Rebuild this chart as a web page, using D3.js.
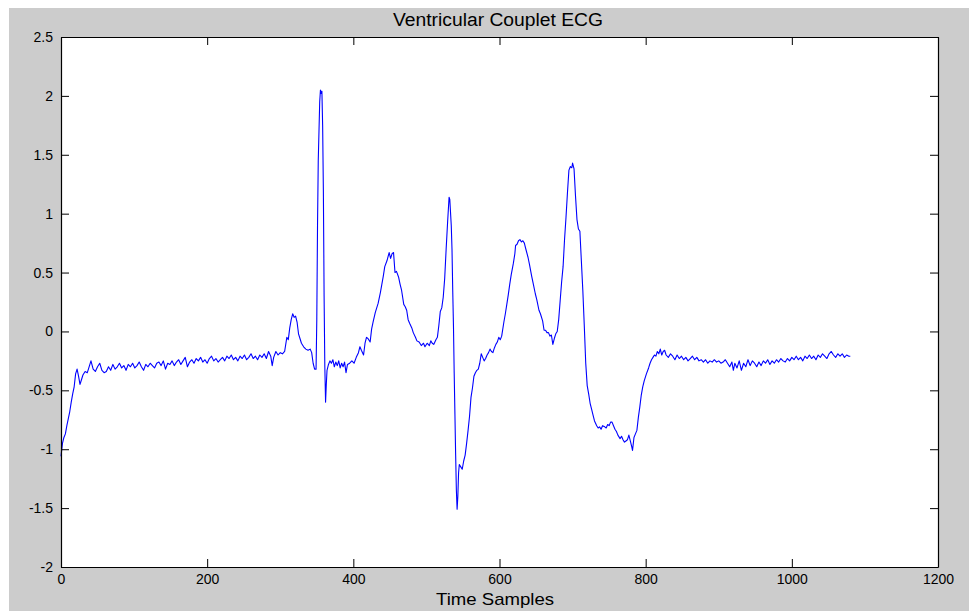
<!DOCTYPE html>
<html>
<head>
<meta charset="utf-8">
<script src="https://cdn.jsdelivr.net/npm/d3@7"></script>
<style>
html,body{margin:0;padding:0;background:#fff;}
svg{display:block;}
</style>
</head>
<body>
<svg id="chart" width="969" height="611"></svg>
<script>
const titleText = "Ventricular Couplet ECG";
const xLabelText = "Time Samples";
const xTicks = [0, 200, 400, 600, 800, 1000, 1200];
const yTicks = [-2, -1.5, -1, -0.5, 0, 0.5, 1, 1.5, 2, 2.5];

const sampleIdx = [
0,2,4,6,8,10,12,14,16,18,20,22,24,26,28,30,33,36,39,41,44,47,50,53,56,59,62,65,68,71,74,77,80,83,86,89,92,95,98,101,104,107,110,113,116,119,122,125,128,131,134,137,140,143,146,149,152,155,158,161,164,167,170,173,176,179,182,185,188,191,194,197,200,203,206,209,212,215,218,221,224,227,230,233,236,239,242,245,248,251,254,257,260,263,266,269,272,275,278,281,284,287,289,291,294,297,300,303,306,309,311,313,315,317,319,321,323,325,327,329,332,335,338,341,343,345,347,349,350,351,352,354,355,356,357,358,359,360,361,362,363,364,366,368,370,372,374,376,378,380,382,384,386,388,390,392,395,398,401,404,407,409,411,414,416,418,420,423,425,427,430,434,437,439,441,443,446,449,451,453,455,457,459,462,464,466,469,471,473,475,477,480,482,485,487,490,493,496,498,501,504,506,508,510,513,515,517,519,521,523,525,527,529,531,532,534,535,536,537,538,539,540,541,542,543,544,545,547,549,551,553,555,557,559,561,563,565,567,569,571,573,575,577,579,581,583,585,587,589,591,593,595,597,599,601,603,606,608,610,612,614,616,619,621,622,624,626,628,630,632,634,636,639,641,644,646,649,651,654,656,659,661,663,665,667,669,671,673,675,677,679,681,683,685,687,689,691,693,695,697,699,700,702,704,706,708,710,712,714,716,718,720,722,724,726,728,730,733,735,737,739,741,744,746,748,750,752,754,756,758,760,762,765,767,769,771,773,775,777,779,781,782,784,786,788,790,792,794,796,798,801,804,806,808,810,812,814,816,818,820,822,824,826,828,831,834,837,840,843,846,849,852,855,858,861,864,867,870,873,876,879,882,885,888,891,894,897,900,903,906,909,912,915,918,920,922,925,928,931,934,937,940,943,946,949,952,955,958,961,964,967,970,973,976,979,982,985,988,991,994,997,1000,1003,1006,1009,1012,1015,1018,1021,1024,1027,1030,1033,1036,1039,1042,1045,1048,1051,1054,1057,1060,1063,1066,1069,1072,1075,1078,1080
];

const ecgValues = [
-1.06,-0.95,-0.90,-0.87,-0.80,-0.74,-0.68,-0.60,-0.53,-0.47,-0.36,-0.32,-0.38,-0.45,-0.41,-0.37,-0.34,-0.35,-0.29,-0.25,-0.32,-0.34,-0.30,-0.27,-0.33,-0.35,-0.34,-0.30,-0.33,-0.28,-0.32,-0.30,-0.27,-0.31,-0.29,-0.33,-0.28,-0.30,-0.27,-0.31,-0.29,-0.26,-0.30,-0.33,-0.28,-0.30,-0.27,-0.29,-0.31,-0.27,-0.26,-0.29,-0.25,-0.32,-0.27,-0.28,-0.25,-0.29,-0.26,-0.24,-0.28,-0.25,-0.22,-0.30,-0.26,-0.24,-0.27,-0.23,-0.25,-0.22,-0.26,-0.24,-0.27,-0.23,-0.21,-0.25,-0.23,-0.26,-0.24,-0.22,-0.25,-0.21,-0.23,-0.20,-0.24,-0.22,-0.25,-0.21,-0.23,-0.20,-0.24,-0.22,-0.19,-0.23,-0.21,-0.24,-0.20,-0.22,-0.19,-0.23,-0.17,-0.21,-0.29,-0.22,-0.17,-0.20,-0.18,-0.19,-0.17,-0.05,-0.07,0.03,0.10,0.15,0.12,0.13,0.08,-0.02,-0.06,-0.10,-0.13,-0.15,-0.16,-0.15,-0.18,-0.27,-0.32,-0.32,0.10,0.90,1.45,1.95,2.05,2.02,2.04,1.75,1.20,0.30,-0.30,-0.60,-0.45,-0.33,-0.28,-0.25,-0.27,-0.24,-0.30,-0.26,-0.29,-0.25,-0.31,-0.27,-0.30,-0.26,-0.35,-0.28,-0.27,-0.25,-0.27,-0.22,-0.18,-0.13,-0.16,-0.20,-0.10,-0.05,-0.06,-0.09,0.02,0.08,0.16,0.24,0.33,0.40,0.47,0.55,0.60,0.67,0.62,0.66,0.67,0.50,0.51,0.46,0.40,0.35,0.23,0.21,0.18,0.10,0.07,0.03,-0.01,-0.05,-0.08,-0.09,-0.12,-0.10,-0.13,-0.10,-0.12,-0.08,-0.10,-0.11,-0.07,-0.05,0.05,0.17,0.20,0.29,0.45,0.70,0.93,1.14,1.12,0.90,0.70,0.35,0.05,-0.35,-0.70,-1.05,-1.35,-1.51,-1.40,-1.20,-1.13,-1.15,-1.17,-1.10,-1.05,-0.95,-0.84,-0.72,-0.56,-0.48,-0.38,-0.35,-0.33,-0.32,-0.27,-0.19,-0.22,-0.25,-0.23,-0.20,-0.18,-0.15,-0.17,-0.18,-0.14,-0.11,-0.09,-0.05,-0.07,-0.04,0.08,0.15,0.23,0.31,0.40,0.48,0.58,0.66,0.73,0.74,0.77,0.78,0.76,0.77,0.75,0.70,0.63,0.57,0.47,0.41,0.32,0.27,0.18,0.15,0.09,0.01,0.01,-0.01,-0.01,-0.04,-0.03,-0.11,-0.06,-0.02,0.00,0.10,0.26,0.42,0.55,0.78,0.97,1.18,1.37,1.40,1.39,1.43,1.38,1.15,0.95,0.87,0.85,0.60,0.35,0.05,-0.27,-0.46,-0.53,-0.61,-0.66,-0.71,-0.76,-0.80,-0.82,-0.81,-0.83,-0.80,-0.81,-0.82,-0.79,-0.80,-0.77,-0.77,-0.80,-0.83,-0.85,-0.88,-0.91,-0.89,-0.92,-0.94,-0.93,-0.92,-0.88,-0.93,-0.98,-1.01,-0.90,-0.87,-0.84,-0.73,-0.64,-0.54,-0.47,-0.42,-0.36,-0.31,-0.27,-0.24,-0.22,-0.20,-0.21,-0.17,-0.19,-0.15,-0.20,-0.17,-0.16,-0.20,-0.22,-0.19,-0.21,-0.24,-0.20,-0.23,-0.21,-0.24,-0.22,-0.25,-0.23,-0.21,-0.24,-0.22,-0.25,-0.24,-0.26,-0.24,-0.27,-0.25,-0.26,-0.24,-0.26,-0.25,-0.27,-0.26,-0.24,-0.27,-0.30,-0.26,-0.33,-0.27,-0.31,-0.25,-0.33,-0.27,-0.30,-0.24,-0.29,-0.25,-0.27,-0.30,-0.26,-0.29,-0.25,-0.27,-0.24,-0.28,-0.25,-0.27,-0.24,-0.26,-0.23,-0.25,-0.26,-0.23,-0.25,-0.22,-0.24,-0.21,-0.24,-0.22,-0.25,-0.21,-0.23,-0.20,-0.23,-0.21,-0.24,-0.20,-0.22,-0.19,-0.21,-0.23,-0.19,-0.17,-0.20,-0.22,-0.19,-0.21,-0.19,-0.22,-0.20,-0.21,-0.21
];

const W = 969, H = 611;
const box = {left: 61, top: 37, right: 938, bottom: 567};
const svg = d3.select("#chart");

// figure background
svg.append("rect").attr("x", 9).attr("y", 8).attr("width", W - 9).attr("height", H - 8).attr("fill", "#cccccc");
// axes background
svg.append("rect").attr("x", box.left).attr("y", box.top)
  .attr("width", box.right - box.left).attr("height", box.bottom - box.top).attr("fill", "#ffffff");

const x = d3.scaleLinear().domain([0, 1200]).range([box.left, box.right]);
const y = d3.scaleLinear().domain([-2, 2.5]).range([box.bottom, box.top]);

const fmt = d => String(d);
const tickLen = 8;
const font = "'Liberation Sans', Arial, Helvetica, sans-serif";

// line
const data = sampleIdx.map((s, i) => [s, ecgValues[i]]);
const line = d3.line().x(d => x(d[0])).y(d => y(d[1]));
svg.append("path").datum(data).attr("d", line)
  .attr("fill", "none").attr("stroke", "#0000ff").attr("stroke-width", 1.1)
  .attr("stroke-linejoin", "round");

// axes
const gB = svg.append("g").attr("transform", `translate(0,${box.bottom})`)
  .call(d3.axisBottom(x).tickValues(xTicks).tickFormat(fmt).tickSizeInner(-tickLen).tickSizeOuter(0).tickPadding(7));
const gT = svg.append("g").attr("transform", `translate(0,${box.top})`)
  .call(d3.axisTop(x).tickValues(xTicks).tickFormat("").tickSizeInner(-tickLen).tickSizeOuter(0));
const gL = svg.append("g").attr("transform", `translate(${box.left},0)`)
  .call(d3.axisLeft(y).tickValues(yTicks).tickFormat(fmt).tickSizeInner(-tickLen).tickSizeOuter(0).tickPadding(8));
const gR = svg.append("g").attr("transform", `translate(${box.right},0)`)
  .call(d3.axisRight(y).tickValues(yTicks).tickFormat("").tickSizeInner(-tickLen).tickSizeOuter(0));

[gB, gT, gL, gR].forEach(g => {
  g.select(".domain").attr("stroke", "#000").attr("stroke-width", 1.2);
  g.selectAll(".tick line").attr("stroke", "#000").attr("stroke-width", 1);
  g.selectAll(".tick text").attr("fill", "#000").style("font-family", font).style("font-size", "14px");
});

// title & xlabel
svg.append("text").attr("x", 498).attr("y", 26)
  .attr("text-anchor", "middle").style("font-family", font)
  .style("font-size", "18px").attr("textLength", 210).attr("lengthAdjust", "spacingAndGlyphs")
  .attr("fill", "#000").text(titleText);
svg.append("text").attr("x", 495).attr("y", 605)
  .attr("text-anchor", "middle").style("font-family", font)
  .style("font-size", "17px").attr("textLength", 118).attr("lengthAdjust", "spacingAndGlyphs")
  .attr("fill", "#000").text(xLabelText);
</script>
</body>
</html>
